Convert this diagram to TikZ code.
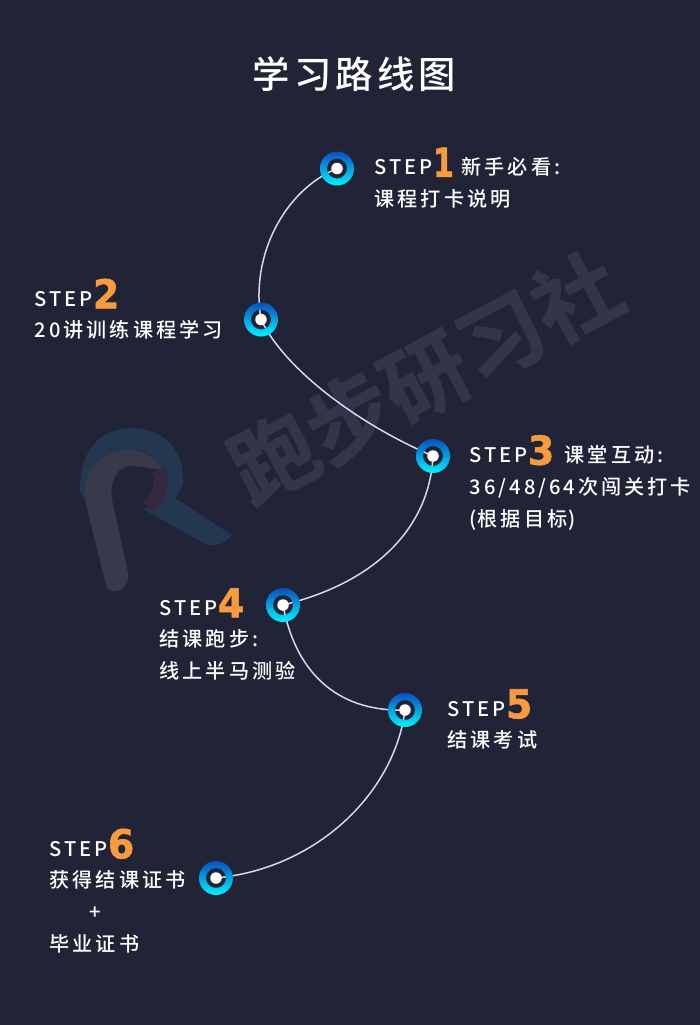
\documentclass[tikz,border=0pt]{standalone}
\usepackage{fontspec}
\newfontfamily\zhfont[LetterSpace=15]{Noto Sans CJK SC Medium}
\newfontfamily\titlefont[LetterSpace=11]{Noto Sans CJK SC Medium}
\newfontfamily\markfont[FakeBold=1]{Noto Sans CJK SC Bold}
\newfontfamily\numfont[FakeBold=1.5]{DejaVu Sans Bold}
\definecolor{bgc}{HTML}{212337}
\definecolor{orangec}{HTML}{F89A3E}
\definecolor{linec}{HTML}{D5D8F2}
\definecolor{ringtop}{HTML}{0A4FBE}
\definecolor{ringmid}{HTML}{00A4EC}
\definecolor{ringbot}{HTML}{00F2FF}
\definecolor{markc}{HTML}{33354A}
\definecolor{logog}{HTML}{383A4C}
\definecolor{logot}{HTML}{233750}
\definecolor{logor}{HTML}{36293F}
\pgfdeclarelayer{backdrop}
\pgfdeclarelayer{links}
\pgfsetlayers{backdrop,links,main}
\newcommand{\stepnum}[2]{\smash{\raisebox{-2bp}{\textcolor{orangec}{\numfont\fontsize{40}{40}\selectfont\scalebox{#1}[1]{#2}}}}}
\tikzset{
  x=1bp,y=-1bp,
  dotnode/.style={circle,fill=white,inner sep=0pt,minimum size=11.5bp},
  ringband/.style={top color=ringtop,middle color=ringmid,bottom color=ringbot,even odd rule},
  link/.style={draw=linec,line width=1.5bp},
  steplabel/.style={anchor=north west,align=left,inner sep=0pt,text=white,font=\zhfont\fontsize{20.2}{31.8}\selectfont},
  logoband/.style={line width=22bp},
}
\begin{document}
\begin{tikzpicture}
\useasboundingbox (0,0) rectangle (700,1025);
\begin{pgfonlayer}{backdrop}
\fill[bgc] (0,0) rectangle (700,1025);
\node[rotate=28,text=markc,font=\markfont\fontsize{86}{86}\selectfont] (mark) at (425,377) {跑步研习社};
\draw[logot,logoband,line cap=round] (91,490) .. controls (91,452) and (110,439) .. (132,439) .. controls (160,439) and (173,460) .. (172,480);
\fill[logot] (161,480) -- (183,480) .. controls (183,485) and (180,492) .. (175,498) -- (232,535) .. controls (225,545) and (212,547) .. (205,544) -- (143,509) .. controls (155,505) and (161,495) .. (161,480) -- cycle;
\draw[logor,line width=14bp] (158,470) .. controls (164,482) and (160,498) .. (148,507);
\fill[logog] (85,500) .. controls (82,465) and (108,450) .. (130,450) .. controls (145,450) and (156,458) .. (162,470) .. controls (150,468) and (140,466) .. (130,466) .. controls (117,466) and (109,482) .. (112,500) -- (128,573) .. controls (131,590) and (110,598) .. (106,585) -- cycle;
\end{pgfonlayer}
% title
\node[text=white,font=\titlefont\fontsize{37.5}{38}\selectfont] (title) at (354.5,74) {学习路线图};
% step markers
\node[dotnode] (s1) at (337,168.5) {};
\node[dotnode] (s2) at (261,319.5) {};
\node[dotnode] (s3) at (433,456) {};
\node[dotnode] (s4) at (283,605) {};
\node[dotnode] (s5) at (405,710) {};
\node[dotnode] (s6) at (216,878) {};
\begin{pgfonlayer}{links}
\path[link] (s1.center) .. controls (285,190) and (250,255) .. (s2.center);
\path[link] (s2.center) .. controls (285,370) and (360,425) .. (s3.center);
\path[link] (s3.center) .. controls (430,520) and (385,580) .. (s4.center);
\path[link] (s4.center) .. controls (295,670) and (335,712) .. (s5.center);
\path[link] (s5.center) .. controls (395,790) and (320,868) .. (s6.center);
\foreach \n in {s1,s2,s3,s4,s5,s6}
  \shade[ringband] (\n.center) circle (17) (\n.center) circle (10);
\end{pgfonlayer}
% labels
\node[steplabel] (l1) at (374.5,157.5) {STEP\stepnum{.76}{1} 新手必看:\\课程打卡说明};
\node[steplabel] (l2) at (34.5,291) {STEP\stepnum{.95}{2}\\20讲训练课程学习};
\node[steplabel] (l3) at (469.5,445.5) {STEP\stepnum{.95}{3}\hspace{3bp} 课堂互动:\\36/48/64次闯关打卡\\(\hspace{1bp}根据目标\hspace{1bp})};
\node[steplabel] (l4) at (159.5,600) {STEP\stepnum{.95}{4}\\结课跑步:\\线上半马测验};
\node[steplabel] (l5) at (447.5,701) {STEP\stepnum{.95}{5}\\结课考试};
\node[steplabel] (l6) at (49.5,841) {STEP\stepnum{.95}{6}\\获得结课证书\\\hspace*{40bp}+\\毕业证书};
\end{tikzpicture}
\end{document}
